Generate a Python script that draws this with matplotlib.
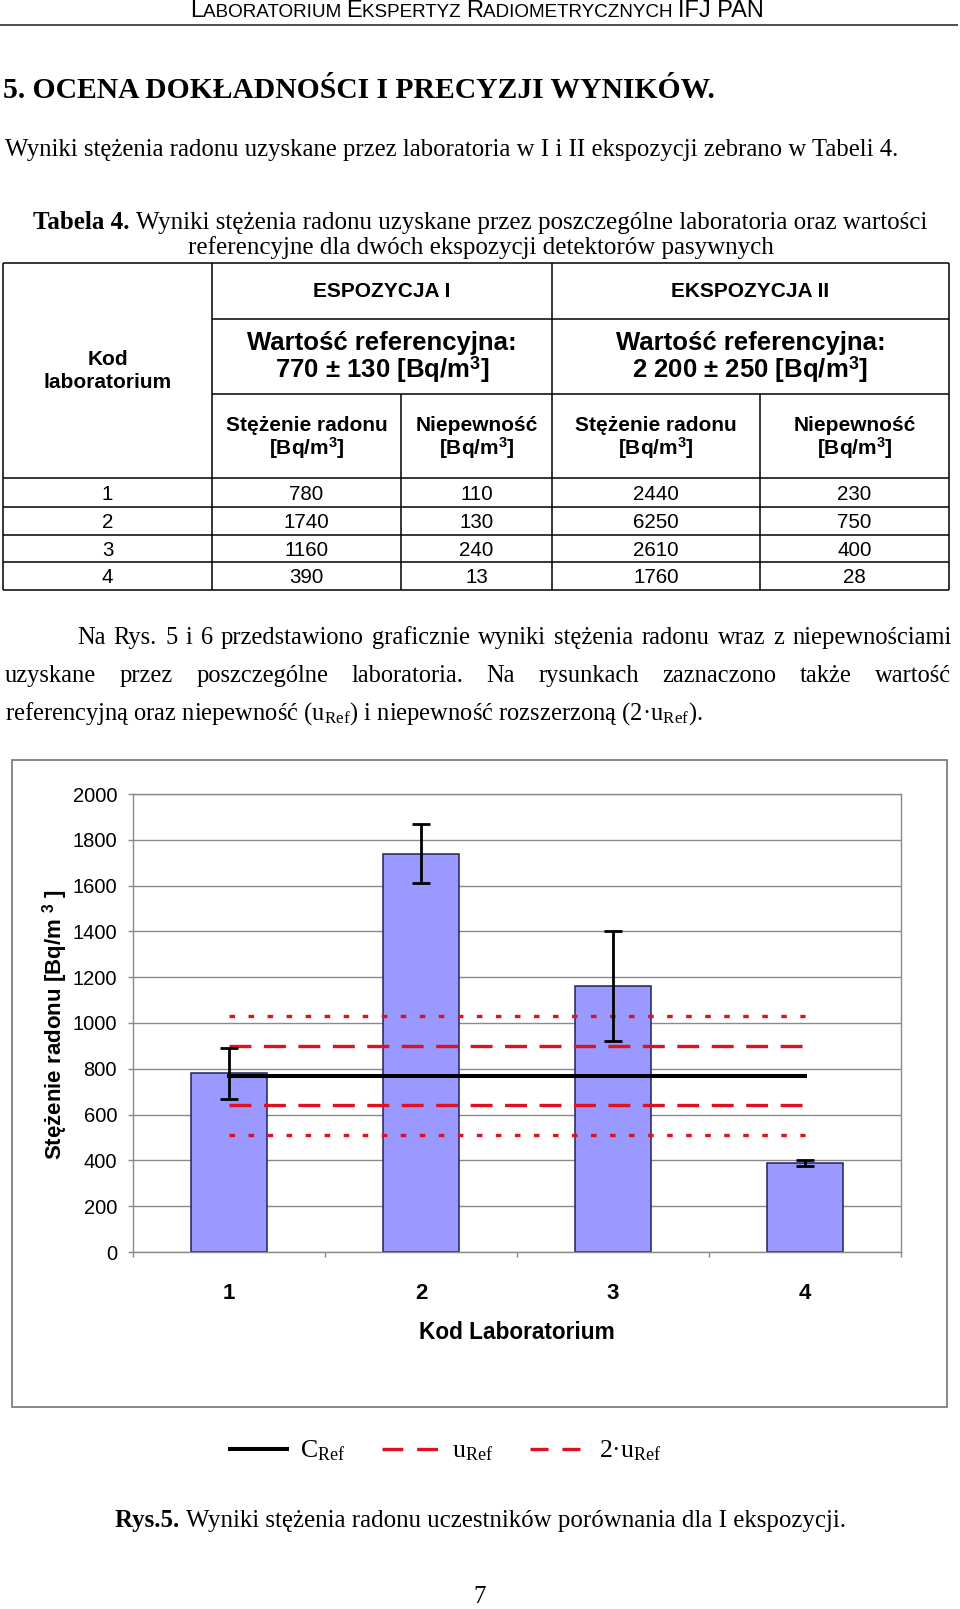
import numpy as np
import matplotlib
matplotlib.use('Agg')
import matplotlib.pyplot as plt
from matplotlib.lines import Line2D
from matplotlib.patches import Rectangle

# ---------------- data ----------------
lab_codes = ['1', '2', '3', '4']
exp1_conc = [780, 1740, 1160, 390]
exp1_unc = [110, 130, 240, 13]
exp2_conc = [2440, 6250, 2610, 1760]
exp2_unc = [230, 750, 400, 28]
ref1_value, ref1_unc = 770, 130
ref2_value, ref2_unc = 2200, 250
y_ticks = [0, 200, 400, 600, 800, 1000, 1200, 1400, 1600, 1800, 2000]

# ---------------- style ----------------
plt.rcParams.update({
    'mathtext.fontset': 'custom',
    'mathtext.rm': 'Liberation Serif',
    'mathtext.it': 'Liberation Serif:italic',
    'mathtext.bf': 'Liberation Sans:bold',
    'mathtext.sf': 'Liberation Sans',
    'lines.scale_dashes': False,
})
SERIF, SANS = 'Liberation Serif', 'Liberation Sans'
RED = '#E01020'
GRID = '#8A8A8A'
W, H = 960, 1609

fig = plt.figure(figsize=(W / 100, H / 100), dpi=100)
ov = fig.add_axes([0, 0, 1, 1], zorder=0)
ov.set_xlim(0, W)
ov.set_ylim(H, 0)
ov.axis('off')
R = fig.canvas.get_renderer()


def tw(s, size, family, weight='normal'):
    t = ov.text(0, 0, '|' + s + '|', fontsize=size, family=family, weight=weight)
    a = t.get_window_extent(R).width
    t.set_text('||')
    b = t.get_window_extent(R).width
    t.remove()
    return a - b


def put_runs(x, y, pieces, size, family):
    for s, wt, sc, dy in pieces:
        ov.text(x, y - dy * size / 0.72, s, fontsize=size * sc, family=family,
                weight=wt, ha='left', va='baseline')
        x += tw(s, size * sc, family, wt)
    return x


def runs_w(pieces, size, family):
    return sum(tw(s, size * sc, family, wt) for s, wt, sc, dy in pieces)


def fit_size(pieces, width, family, base=20.0):
    return base * width / runs_w(pieces, base, family)


# ---------------- page header ----------------
hdr = []
for wd in ['LABORATORIUM', 'EKSPERTYZ', 'RADIOMETRYCZNYCH']:
    hdr += [(wd[0], 'normal', 1.0, 0), (wd[1:] + ' ', 'normal', 0.8, 0)]
hdr += [('IFJ PAN', 'normal', 1.0, 0)]
put_runs(190, 17, hdr, fit_size(hdr, 578, SANS), SANS)
ov.hlines(24.5, 0, 958, color='#303030', lw=1.2)

hd = [('5. OCENA DOKŁADNOŚCI I PRECYZJI WYNIKÓW.', 'bold', 1, 0)]
put_runs(3, 98, hd, fit_size(hd, 710, SERIF), SERIF)

p1 = [('Wyniki stężenia radonu uzyskane przez laboratoria w I i II ekspozycji zebrano w Tabeli 4.',
       'normal', 1, 0)]
put_runs(5, 156, p1, fit_size(p1, 893, SERIF), SERIF)

t1 = [('Tabela 4. ', 'bold', 1, 0),
      ('Wyniki stężenia radonu uzyskane przez poszczególne laboratoria oraz wartości', 'normal', 1, 0)]
s_t = fit_size(t1, 895, SERIF)
put_runs(33, 229, t1, s_t, SERIF)
ov.text(481, 254, 'referencyjne dla dwóch ekspozycji detektorów pasywnych', fontsize=s_t,
        family=SERIF, ha='center', va='baseline')

# ---------------- table ----------------
tx = [3, 212, 401, 552, 760, 949]
ty = [263, 319, 394, 478, 507, 535, 562, 590]
lw_t = 1.1
ov.hlines([ty[0]] + ty[3:], tx[0], tx[-1], color='black', lw=lw_t)
ov.hlines(ty[1:3], tx[1], tx[-1], color='black', lw=lw_t)
ov.vlines([tx[0], tx[1], tx[3], tx[5]], ty[0], ty[-1], color='black', lw=lw_t)
ov.vlines([tx[2], tx[4]], ty[2], ty[-1], color='black', lw=lw_t)

cx = [(tx[i] + tx[i + 1]) / 2 for i in range(5)]
c_e1 = (tx[1] + tx[3]) / 2
c_e2 = (tx[3] + tx[5]) / 2


def ctext(x, y, s, size, wt='bold'):
    ov.text(x, y, s, fontsize=size, family=SANS, weight=wt, ha='center', va='baseline')


SUP3 = r'$^{\mathbf{3}}$'
ctext(c_e1, 297, 'ESPOZYCJA I', 15)
ctext(c_e2, 297, 'EKSPOZYCJA II', 15)
ctext(c_e1, 350, 'Wartość referencyjna:', 18.5)
ctext(c_e2, 350, 'Wartość referencyjna:', 18.5)
ctext(c_e1, 378, f'{ref1_value} ± {ref1_unc} [Bq/m{SUP3}]', 18.5)
ctext(c_e2, 378, f'{ref2_value:,}'.replace(',', ' ') + f' ± {ref2_unc} [Bq/m{SUP3}]', 18.5)
ctext(cx[0], 365, 'Kod', 15)
ctext(cx[0], 388, 'laboratorium', 15)
for c, t in zip(cx[1:], ['Stężenie radonu', 'Niepewność', 'Stężenie radonu', 'Niepewność']):
    ctext(c, 431, t, 15)
    ctext(c, 455, f'[Bq/m{SUP3}]', 15)

row_base = [500, 528, 556, 583]
for r, yb in zip(zip(lab_codes, exp1_conc, exp1_unc, exp2_conc, exp2_unc), row_base):
    for c, v in zip(cx, r):
        ctext(c, yb, str(v), 14.8, 'normal')

# ---------------- paragraph ----------------
l1 = 'Na Rys. 5 i 6 przedstawiono graficznie wyniki stężenia radonu wraz z niepewnościami'
l2 = 'uzyskane przez poszczególne laboratoria. Na rysunkach zaznaczono także wartość'
l3 = r'referencyjną oraz niepewność (u$_{\mathrm{Ref}}$) i niepewność rozszerzoną (2·u$_{\mathrm{Ref}}$).'
s_p = 20 * 697 / tw(l3, 20, SERIF)
ov.text(5, 720, l3, fontsize=s_p, family=SERIF, ha='left', va='baseline')


def justify(words, x0, x1, y, size):
    ws = [tw(w, size, SERIF) for w in words]
    gap = (x1 - x0 - sum(ws)) / (len(words) - 1)
    x = x0
    for w, wd in zip(words, ws):
        ov.text(x, y, w, fontsize=size, family=SERIF, ha='left', va='baseline')
        x += wd + gap


justify(l1.split(), 77, 952, 644, s_p)
justify(l2.split(), 5, 951, 682, s_p)

# ---------------- chart ----------------
ov.add_patch(Rectangle((12, 760), 935, 647, fill=False, ec='#7f7f7f', lw=1.3))
ax = fig.add_axes([133 / W, 1 - 1252 / H, 768 / W, 458 / H], zorder=1)
x = np.arange(len(lab_codes))
ax.bar(x, exp1_conc, width=0.4, color='#9999FF', edgecolor='#202060', linewidth=1.1,
       yerr=exp1_unc, zorder=2,
       error_kw=dict(ecolor='black', elinewidth=2.0, capsize=6.8, capthick=2.0, zorder=5))
ax.plot([x[0], x[-1]], [ref1_value] * 2, color='black', lw=2.9, zorder=4)
for sgn in (1, -1):
    ax.plot([x[0], x[-1]], [ref1_value + sgn * ref1_unc] * 2, color=RED, lw=2.4,
            dashes=(15.8, 9), zorder=3)
    ax.plot([x[0], x[-1]], [ref1_value + sgn * 2 * ref1_unc] * 2, color=RED, lw=2.4,
            dashes=(4, 9.7), zorder=3)

ax.set_xlim(-0.5, len(lab_codes) - 0.5)
ax.set_ylim(y_ticks[0], y_ticks[-1])
ax.set_yticks(y_ticks)
ax.set_yticklabels([str(v) for v in y_ticks], family=SANS, fontsize=14.5)
ax.tick_params(axis='y', length=3.6, width=1, color=GRID, pad=7.9, direction='out')
ax.set_xticks(x)
ax.set_xticklabels(lab_codes, family=SANS, fontsize=16, weight='bold')
ax.tick_params(axis='x', which='major', length=0, pad=22.3)
ax.set_xticks(np.arange(len(lab_codes) + 1) - 0.5, minor=True)
ax.tick_params(axis='x', which='minor', length=3.6, color=GRID, width=1, direction='out')
ax.yaxis.grid(True, color=GRID, lw=1)
ax.set_axisbelow(True)
for sp in ax.spines.values():
    sp.set_color(GRID)
    sp.set_linewidth(1)

ax.set_xlabel('Kod Laboratorium', family=SANS, fontsize=16.3, weight='bold')
ax.xaxis.set_label_coords(517, 1339, transform=ov.transData)
ax.xaxis.label.set_va('baseline')
ax.set_ylabel(r'Stężenie radonu [Bq/m $^{\mathbf{3}}$ ]', family=SANS, fontsize=16, weight='bold')
ax.yaxis.set_label_coords(62, 1024.5, transform=ov.transData)
ax.yaxis.label.set_va('baseline')

h_c = Line2D([], [], color='black', lw=2.9)
h_u = Line2D([], [], color=RED, lw=2.4, dashes=(15, 10))
h_2u = Line2D([], [], color=RED, lw=2.4, dashes=(13, 10))
fig.legend([h_c, h_u, h_2u],
           [r'C$_{\mathrm{Ref}}$', r'u$_{\mathrm{Ref}}$', r'2·u$_{\mathrm{Ref}}$'],
           loc='center', bbox_to_anchor=(446 / W, 1 - 1451 / H), ncol=3, frameon=False,
           prop=dict(family=SERIF, size=18.5), handlelength=2.2, handletextpad=0.5,
           columnspacing=1.45, borderpad=0, borderaxespad=0)

cap = [('Rys.5. ', 'bold', 1, 0),
       ('Wyniki stężenia radonu uczestników porównania dla I ekspozycji.', 'normal', 1, 0)]
put_runs(115, 1527, cap, fit_size(cap, 728, SERIF), SERIF)
ov.text(480, 1603, '7', fontsize=18, family=SERIF, ha='center', va='baseline')

fig.savefig('out.png', dpi=100)
